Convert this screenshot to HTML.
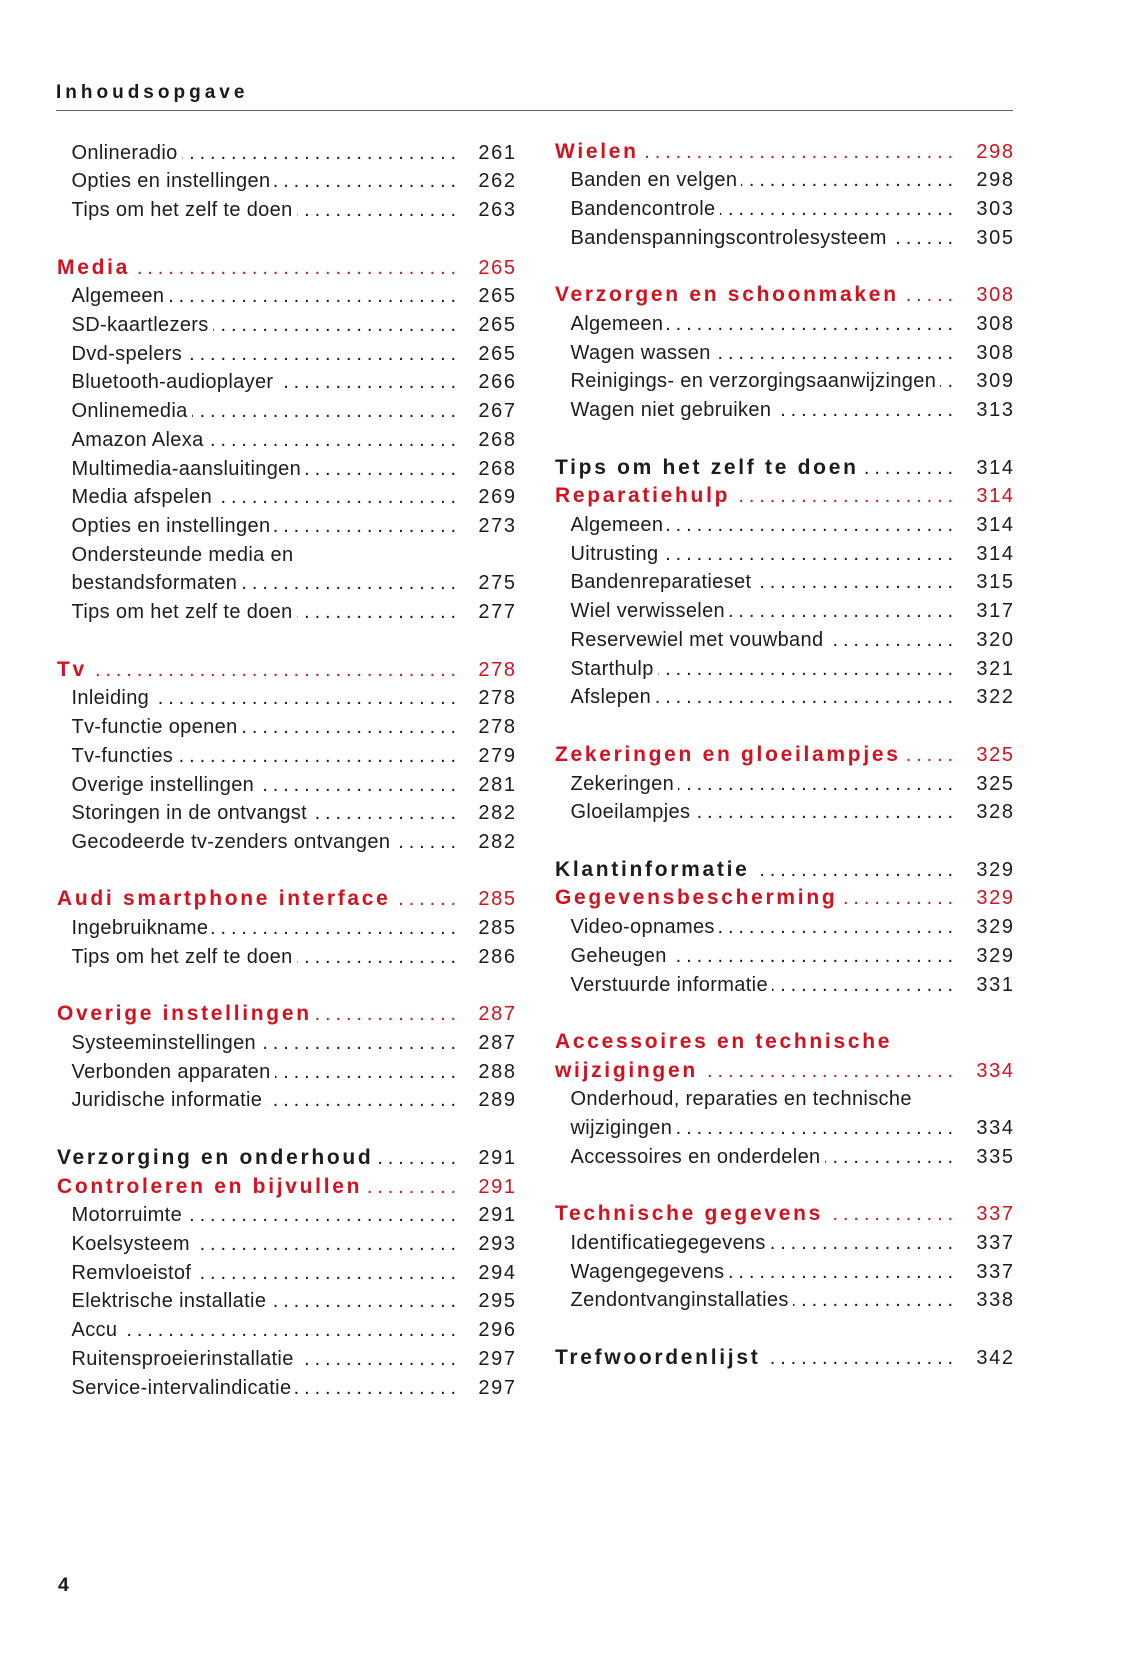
<!DOCTYPE html>
<html><head><meta charset="utf-8">
<style>
html,body{margin:0;padding:0;background:#fff;}
body{width:1142px;height:1654px;position:relative;overflow:hidden;font-family:"Liberation Sans",sans-serif;color:#1c1c1c;}
.hdr{position:absolute;left:56px;top:79px;font-size:19px;font-weight:bold;letter-spacing:4px;line-height:28px;color:#1a1a1a;}
.rule{position:absolute;left:56px;top:109.5px;width:957px;height:1.2px;background:#666;}
.col{position:absolute;}
.left{left:57px;top:138.7px;width:458px;}
.right{left:555px;top:137.7px;width:458px;}
.row{display:flex;align-items:baseline;height:28.72px;line-height:28.72px;white-space:nowrap;font-size:20px;}
.t{flex:none;padding-right:4px;letter-spacing:0.35px;}
.left .sub .t{padding-left:14.5px;}
.right .sub .t{padding-left:15.5px;}
.h .t{font-weight:bold;font-size:21px;letter-spacing:2.7px;}
.red{color:#d3111f;}
.l{flex:1;overflow:hidden;direction:rtl;letter-spacing:4.9px;font-size:20px;margin-right:-3px;}
.n{flex:none;text-align:right;letter-spacing:1.6px;margin-right:-1.6px;position:relative;}
.left .n{width:58.6px;}
.right .n{width:59.6px;}
.pg{position:absolute;left:58px;top:1571px;font-size:19.5px;font-weight:bold;line-height:28px;}
</style></head><body>
<div class="hdr">Inhoudsopgave</div>
<div class="rule"></div>

<div class="col left">
<div class="row sub"><span class="t">Onlineradio</span><span class="l">................................................................</span><span class="n">261</span></div>
<div class="row sub"><span class="t">Opties en instellingen</span><span class="l">................................................................</span><span class="n">262</span></div>
<div class="row sub"><span class="t">Tips om het zelf te doen</span><span class="l">................................................................</span><span class="n">263</span></div>
<div class="row"></div>
<div class="row h red"><span class="t">Media</span><span class="l">................................................................</span><span class="n">265</span></div>
<div class="row sub"><span class="t">Algemeen</span><span class="l">................................................................</span><span class="n">265</span></div>
<div class="row sub"><span class="t">SD-kaartlezers</span><span class="l">................................................................</span><span class="n">265</span></div>
<div class="row sub"><span class="t">Dvd-spelers</span><span class="l">................................................................</span><span class="n">265</span></div>
<div class="row sub"><span class="t">Bluetooth-audioplayer</span><span class="l">................................................................</span><span class="n">266</span></div>
<div class="row sub"><span class="t">Onlinemedia</span><span class="l">................................................................</span><span class="n">267</span></div>
<div class="row sub"><span class="t">Amazon Alexa</span><span class="l">................................................................</span><span class="n">268</span></div>
<div class="row sub"><span class="t">Multimedia-aansluitingen</span><span class="l">................................................................</span><span class="n">268</span></div>
<div class="row sub"><span class="t">Media afspelen</span><span class="l">................................................................</span><span class="n">269</span></div>
<div class="row sub"><span class="t">Opties en instellingen</span><span class="l">................................................................</span><span class="n">273</span></div>
<div class="row sub"><span class="t">Ondersteunde media en</span></div>
<div class="row sub"><span class="t">bestandsformaten</span><span class="l">................................................................</span><span class="n">275</span></div>
<div class="row sub"><span class="t">Tips om het zelf te doen</span><span class="l">................................................................</span><span class="n">277</span></div>
<div class="row"></div>
<div class="row h red"><span class="t">Tv</span><span class="l">................................................................</span><span class="n">278</span></div>
<div class="row sub"><span class="t">Inleiding</span><span class="l">................................................................</span><span class="n">278</span></div>
<div class="row sub"><span class="t">Tv-functie openen</span><span class="l">................................................................</span><span class="n">278</span></div>
<div class="row sub"><span class="t">Tv-functies</span><span class="l">................................................................</span><span class="n">279</span></div>
<div class="row sub"><span class="t">Overige instellingen</span><span class="l">................................................................</span><span class="n">281</span></div>
<div class="row sub"><span class="t">Storingen in de ontvangst</span><span class="l">................................................................</span><span class="n">282</span></div>
<div class="row sub"><span class="t">Gecodeerde tv-zenders ontvangen</span><span class="l">................................................................</span><span class="n">282</span></div>
<div class="row"></div>
<div class="row h red"><span class="t">Audi smartphone interface</span><span class="l">................................................................</span><span class="n">285</span></div>
<div class="row sub"><span class="t">Ingebruikname</span><span class="l">................................................................</span><span class="n">285</span></div>
<div class="row sub"><span class="t">Tips om het zelf te doen</span><span class="l">................................................................</span><span class="n">286</span></div>
<div class="row"></div>
<div class="row h red"><span class="t">Overige instellingen</span><span class="l">................................................................</span><span class="n">287</span></div>
<div class="row sub"><span class="t">Systeeminstellingen</span><span class="l">................................................................</span><span class="n">287</span></div>
<div class="row sub"><span class="t">Verbonden apparaten</span><span class="l">................................................................</span><span class="n">288</span></div>
<div class="row sub"><span class="t">Juridische informatie</span><span class="l">................................................................</span><span class="n">289</span></div>
<div class="row"></div>
<div class="row h"><span class="t">Verzorging en onderhoud</span><span class="l">................................................................</span><span class="n">291</span></div>
<div class="row h red"><span class="t">Controleren en bijvullen</span><span class="l">................................................................</span><span class="n">291</span></div>
<div class="row sub"><span class="t">Motorruimte</span><span class="l">................................................................</span><span class="n">291</span></div>
<div class="row sub"><span class="t">Koelsysteem</span><span class="l">................................................................</span><span class="n">293</span></div>
<div class="row sub"><span class="t">Remvloeistof</span><span class="l">................................................................</span><span class="n">294</span></div>
<div class="row sub"><span class="t">Elektrische installatie</span><span class="l">................................................................</span><span class="n">295</span></div>
<div class="row sub"><span class="t">Accu</span><span class="l">................................................................</span><span class="n">296</span></div>
<div class="row sub"><span class="t">Ruitensproeierinstallatie</span><span class="l">................................................................</span><span class="n">297</span></div>
<div class="row sub"><span class="t">Service-intervalindicatie</span><span class="l">................................................................</span><span class="n">297</span></div>
</div>

<div class="col right">
<div class="row h red"><span class="t">Wielen</span><span class="l">................................................................</span><span class="n">298</span></div>
<div class="row sub"><span class="t">Banden en velgen</span><span class="l">................................................................</span><span class="n">298</span></div>
<div class="row sub"><span class="t">Bandencontrole</span><span class="l">................................................................</span><span class="n">303</span></div>
<div class="row sub"><span class="t">Bandenspanningscontrolesysteem</span><span class="l">................................................................</span><span class="n">305</span></div>
<div class="row"></div>
<div class="row h red"><span class="t">Verzorgen en schoonmaken</span><span class="l">................................................................</span><span class="n">308</span></div>
<div class="row sub"><span class="t">Algemeen</span><span class="l">................................................................</span><span class="n">308</span></div>
<div class="row sub"><span class="t">Wagen wassen</span><span class="l">................................................................</span><span class="n">308</span></div>
<div class="row sub"><span class="t">Reinigings- en verzorgingsaanwijzingen</span><span class="l">................................................................</span><span class="n">309</span></div>
<div class="row sub"><span class="t">Wagen niet gebruiken</span><span class="l">................................................................</span><span class="n">313</span></div>
<div class="row"></div>
<div class="row h"><span class="t">Tips om het zelf te doen</span><span class="l">................................................................</span><span class="n">314</span></div>
<div class="row h red"><span class="t">Reparatiehulp</span><span class="l">................................................................</span><span class="n">314</span></div>
<div class="row sub"><span class="t">Algemeen</span><span class="l">................................................................</span><span class="n">314</span></div>
<div class="row sub"><span class="t">Uitrusting</span><span class="l">................................................................</span><span class="n">314</span></div>
<div class="row sub"><span class="t">Bandenreparatieset</span><span class="l">................................................................</span><span class="n">315</span></div>
<div class="row sub"><span class="t">Wiel verwisselen</span><span class="l">................................................................</span><span class="n">317</span></div>
<div class="row sub"><span class="t">Reservewiel met vouwband</span><span class="l">................................................................</span><span class="n">320</span></div>
<div class="row sub"><span class="t">Starthulp</span><span class="l">................................................................</span><span class="n">321</span></div>
<div class="row sub"><span class="t">Afslepen</span><span class="l">................................................................</span><span class="n">322</span></div>
<div class="row"></div>
<div class="row h red"><span class="t">Zekeringen en gloeilampjes</span><span class="l">................................................................</span><span class="n">325</span></div>
<div class="row sub"><span class="t">Zekeringen</span><span class="l">................................................................</span><span class="n">325</span></div>
<div class="row sub"><span class="t">Gloeilampjes</span><span class="l">................................................................</span><span class="n">328</span></div>
<div class="row"></div>
<div class="row h"><span class="t">Klantinformatie</span><span class="l">................................................................</span><span class="n">329</span></div>
<div class="row h red"><span class="t">Gegevensbescherming</span><span class="l">................................................................</span><span class="n">329</span></div>
<div class="row sub"><span class="t">Video-opnames</span><span class="l">................................................................</span><span class="n">329</span></div>
<div class="row sub"><span class="t">Geheugen</span><span class="l">................................................................</span><span class="n">329</span></div>
<div class="row sub"><span class="t">Verstuurde informatie</span><span class="l">................................................................</span><span class="n">331</span></div>
<div class="row"></div>
<div class="row h red"><span class="t">Accessoires en technische</span></div>
<div class="row h red"><span class="t">wijzigingen</span><span class="l">................................................................</span><span class="n">334</span></div>
<div class="row sub"><span class="t">Onderhoud, reparaties en technische</span></div>
<div class="row sub"><span class="t">wijzigingen</span><span class="l">................................................................</span><span class="n">334</span></div>
<div class="row sub"><span class="t">Accessoires en onderdelen</span><span class="l">................................................................</span><span class="n">335</span></div>
<div class="row"></div>
<div class="row h red"><span class="t">Technische gegevens</span><span class="l">................................................................</span><span class="n">337</span></div>
<div class="row sub"><span class="t">Identificatiegegevens</span><span class="l">................................................................</span><span class="n">337</span></div>
<div class="row sub"><span class="t">Wagengegevens</span><span class="l">................................................................</span><span class="n">337</span></div>
<div class="row sub"><span class="t">Zendontvanginstallaties</span><span class="l">................................................................</span><span class="n">338</span></div>
<div class="row"></div>
<div class="row h"><span class="t">Trefwoordenlijst</span><span class="l">................................................................</span><span class="n">342</span></div>
</div>

<div class="pg">4</div>
</body></html>
